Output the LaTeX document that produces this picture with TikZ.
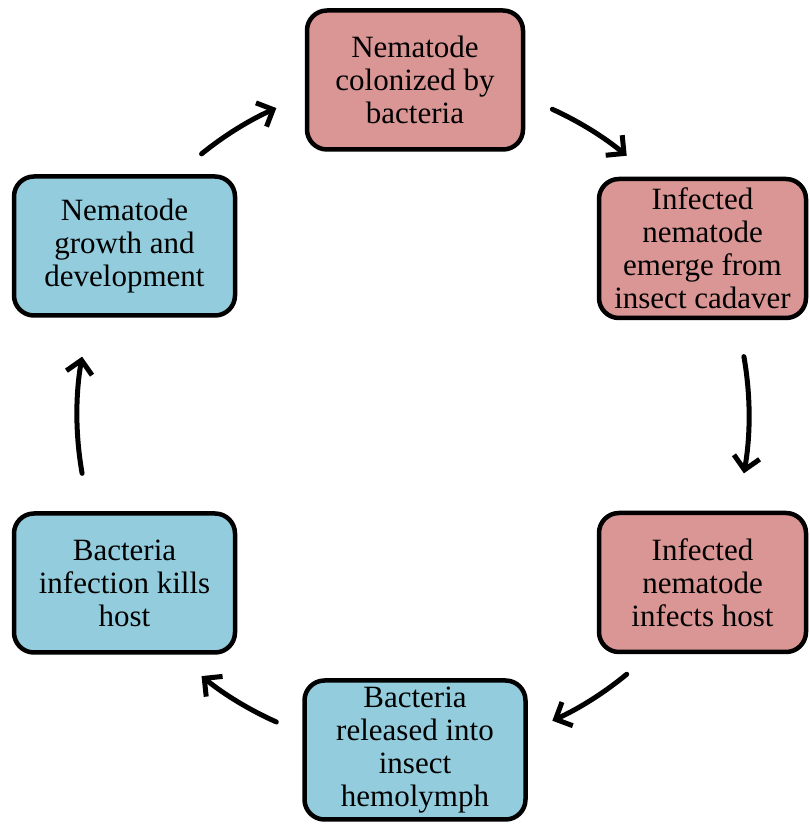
\documentclass[tikz,border=0pt]{standalone}
\usepackage{fontspec}
\setmainfont{Liberation Serif}
\usetikzlibrary{arrows.meta}
\definecolor{pinkbox}{RGB}{217,150,148}
\definecolor{bluebox}{RGB}{147,205,221}
\tikzset{
  stagebox/.style={draw=black, line width=4.5pt, rounded corners=20pt, align=center,
    minimum width=216pt, minimum height=139pt, inner sep=2pt,
    font=\fontsize{31}{33}\selectfont},
  cyc/.style={line width=5pt, line cap=round, -{Straight Barb[length=13pt,width=26pt]}}
}
\begin{document}
\begin{tikzpicture}[x=1pt,y=1pt]
\useasboundingbox (0,0) rectangle (810,824);
\coordinate (ctr) at (413,409);
% stages
\node[stagebox, fill=pinkbox] (colonized) at (415,744) {Nematode\\colonized by\\bacteria};
\node[stagebox, fill=pinkbox, minimum width=207pt] (emerge) at (702.5,575.5) {Infected\\nematode\\emerge from\\insect cadaver};
\node[stagebox, fill=pinkbox, minimum width=207pt] (infects) at (702.5,241.5) {Infected\\nematode\\infects host};
\node[stagebox, fill=bluebox, minimum width=221pt] (released) at (415,74) {Bacteria\\released into\\insect\\hemolymph};
\node[stagebox, fill=bluebox, minimum width=221pt] (kills) at (124.5,241) {Bacteria\\infection kills\\host};
\node[stagebox, fill=bluebox, minimum width=221pt] (growth) at (124.5,578) {Nematode\\growth and\\development};
% cycle arrows
\draw[cyc] (ctr) ++(129:336pt) arc[start angle=129, end angle=114, radius=336pt];
\draw[cyc] (ctr) ++(65.5:336pt) arc[start angle=65.5, end angle=50.5, radius=336pt];
\draw[cyc] (ctr) ++(10:336pt) arc[start angle=10, end angle=-10, radius=336pt];
\draw[cyc] (ctr) ++(-50.5:336pt) arc[start angle=-50.5, end angle=-65.5, radius=336pt];
\draw[cyc] (ctr) ++(-114:336pt) arc[start angle=-114, end angle=-129, radius=336pt];
\draw[cyc] (ctr) ++(190:336pt) arc[start angle=190, end angle=170, radius=336pt];
\end{tikzpicture}
\end{document}
